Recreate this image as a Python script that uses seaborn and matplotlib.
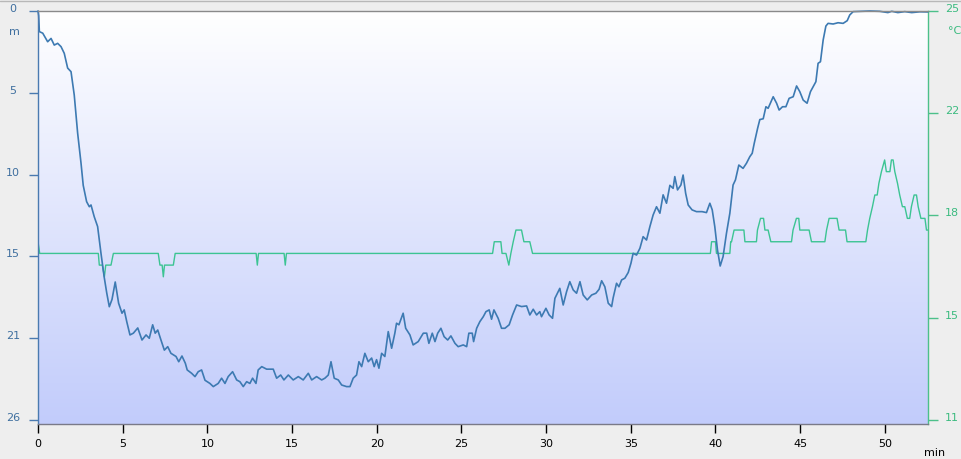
import numpy as np
import pandas as pd
import matplotlib
matplotlib.use("Agg")
import matplotlib.pyplot as plt
import matplotlib.transforms as mtransforms
from matplotlib.colors import LinearSegmentedColormap
from matplotlib.lines import Line2D
import seaborn as sns

# ---------------- data ----------------
depth_time = [0.0, 0.04, 0.08, 0.28, 0.57, 0.77, 0.96, 1.16, 1.36, 1.55, 1.75, 1.95, 2.14, 2.34,
              2.54, 2.67, 2.87, 3.03, 3.13, 3.32, 3.52, 3.72, 3.91, 4.06, 4.21, 4.37, 4.56, 4.76,
              4.96, 5.09, 5.24, 5.43, 5.63, 5.89, 6.14, 6.38, 6.57, 6.77, 6.92, 7.07, 7.26, 7.46,
              7.66, 7.85, 8.15, 8.31, 8.5, 8.7, 8.81, 9.07, 9.27, 9.46, 9.66, 9.86, 10.15, 10.35,
              10.64, 10.84, 11.04, 11.23, 11.49, 11.73, 11.92, 12.12, 12.32, 12.51, 12.67, 12.87,
              13.0, 13.21, 13.5, 13.89, 14.09, 14.33, 14.52, 14.78, 15.07, 15.37, 15.66, 15.96,
              16.16, 16.45, 16.75, 16.94, 17.14, 17.3, 17.49, 17.73, 17.93, 18.22, 18.42, 18.61,
              18.81, 18.95, 19.11, 19.3, 19.5, 19.7, 19.85, 19.99, 20.13, 20.29, 20.48, 20.68,
              20.88, 21.07, 21.17, 21.31, 21.56, 21.71, 21.96, 22.15, 22.45, 22.75, 22.95, 23.08,
              23.28, 23.44, 23.6, 23.79, 23.98, 24.19, 24.38, 24.62, 24.81, 25.11, 25.31, 25.44,
              25.64, 25.72, 25.9, 26.09, 26.29, 26.45, 26.64, 26.78, 26.92, 27.17, 27.37, 27.57,
              27.82, 28.02, 28.26, 28.55, 28.85, 29.04, 29.24, 29.44, 29.63, 29.73, 29.99, 30.18,
              30.38, 30.52, 30.71, 30.81, 31.01, 31.21, 31.4, 31.6, 31.8, 32.0, 32.19, 32.43,
              32.69, 32.94, 33.13, 33.28, 33.47, 33.67, 33.87, 33.96, 34.16, 34.3, 34.46, 34.65,
              34.85, 35.01, 35.14, 35.34, 35.54, 35.73, 35.93, 36.13, 36.32, 36.52, 36.72, 36.91,
              37.11, 37.31, 37.5, 37.6, 37.76, 37.96, 38.09, 38.24, 38.39, 38.62, 38.88, 39.21,
              39.47, 39.67, 39.81, 39.96, 40.12, 40.28, 40.45, 40.65, 40.85, 41.04, 41.18, 41.38,
              41.63, 41.83, 42.03, 42.17, 42.29, 42.49, 42.62, 42.82, 42.98, 43.11, 43.41, 43.61,
              43.76, 43.96, 44.16, 44.35, 44.59, 44.79, 44.98, 45.18, 45.41, 45.61, 45.77, 45.93,
              46.06, 46.2, 46.36, 46.52, 46.65, 46.95, 47.24, 47.54, 47.78, 47.93, 48.13, 49.11,
              49.7, 50.18, 50.41, 50.77, 51.18, 51.59, 52.07, 52.54]
depth_m = [0.0, 0.3, 1.3, 1.4, 1.94, 1.73, 2.15, 2.04, 2.25, 2.67, 3.6, 3.83, 5.3, 7.7,
           9.6, 11.0, 12.03, 12.35, 12.24, 12.98, 13.6, 15.3, 16.8, 17.8, 18.66, 18.2, 17.1, 18.44,
           19.07, 18.86, 19.6, 20.44, 20.33, 20.0, 20.76, 20.44, 20.65, 19.8, 20.33, 20.13, 20.76, 21.4,
           21.18, 21.6, 21.8, 22.13, 21.77, 22.23, 22.65, 22.86, 23.07, 22.76, 22.65, 23.3, 23.5, 23.7,
           23.5, 23.17, 23.5, 23.07, 22.76, 23.28, 23.39, 23.7, 23.39, 23.5, 23.17, 23.5,
           22.65, 22.44, 22.6, 22.6, 23.17, 22.97, 23.28, 22.97, 23.28, 23.07, 23.28, 22.86,
           23.28, 23.07, 23.28, 23.17, 22.97, 22.13, 23.17, 23.28, 23.6, 23.7, 23.7, 23.17,
           22.97, 22.13, 22.44, 21.6, 22.13, 21.9, 22.44, 22.0, 22.54, 21.6, 21.8, 20.23,
           21.28, 20.33, 19.7, 19.8, 19.07, 20.02, 20.44, 21.07, 20.86, 20.33, 20.33, 20.97,
           20.33, 20.86, 20.33, 20.02, 20.55, 20.76, 20.5, 20.97, 21.18, 21.07, 21.18, 20.33,
           20.33, 20.86, 20.02, 19.6, 19.29, 18.97, 18.86, 19.45, 18.86, 19.39, 20.02, 20.02,
           19.8, 19.18, 18.55, 18.65, 18.61, 19.18, 18.82, 19.18, 18.97, 19.29, 18.76, 19.18,
           19.39, 18.13, 17.71, 17.5, 18.55, 17.71, 17.08, 17.6, 17.81, 17.08, 17.92, 18.23,
           17.92, 17.81, 17.56, 17.02, 17.4, 18.44, 18.65, 18.1, 17.18, 17.4, 16.97, 16.86,
           16.5, 15.92, 15.29, 15.4, 14.97, 14.24, 14.45, 13.6, 12.87, 12.35, 12.76, 11.6,
           12.13, 11.0, 11.19, 10.45, 11.29, 10.98, 10.35, 11.5, 12.24, 12.55, 12.66, 12.66,
           12.72, 12.13, 12.55, 13.6, 15.08, 16.09, 15.5, 14.03, 12.76, 10.98, 10.66, 9.72,
           9.93, 9.61, 9.19, 8.98, 8.35, 7.4, 6.85, 6.8, 6.04, 6.14, 5.41, 5.82,
           6.25, 6.04, 6.04, 5.51, 5.41, 4.73, 5.09, 5.62, 5.82, 5.09, 4.78, 4.46,
           3.3, 3.2, 1.83, 0.95, 0.78, 0.82, 0.74, 0.78, 0.61, 0.25, 0.04, 0.0,
           0.02, 0.1, 0.02, 0.1, 0.04, 0.1, 0.05, 0.06]

temp_time = [0.0, 0.1, 3.56, 3.62, 3.8, 3.92, 4.0, 4.31, 4.45, 7.1, 7.2, 7.33, 7.4, 7.47,
             7.99, 8.1, 12.88, 12.95, 13.02, 14.53, 14.6, 14.67, 26.84, 26.94, 27.33, 27.4,
             27.63, 27.8, 27.92, 28.06, 28.22, 28.55, 28.69, 29.04, 29.2, 39.7, 39.77, 40.0,
             40.06, 40.85, 40.9, 40.95, 41.1, 41.68, 41.74, 42.42, 42.48, 42.66, 42.84, 42.92,
             43.11, 43.27, 44.49, 44.58, 44.78, 44.92, 44.98, 45.53, 45.67, 46.46, 46.56, 46.71,
             47.18, 47.3, 47.68, 47.77, 48.88, 48.98, 49.11, 49.27, 49.41, 49.55, 49.65, 49.8,
             49.99, 50.09, 50.3, 50.39, 50.49, 50.59, 50.75, 50.88, 51.04, 51.18, 51.33, 51.47,
             51.57, 51.73, 51.87, 51.97, 52.13, 52.37, 52.46, 52.54]
temp_c = [17.1, 16.7, 16.7, 16.3, 16.3, 15.9, 16.3, 16.3, 16.7, 16.7, 16.3, 16.3, 15.9, 16.3,
          16.3, 16.7, 16.7, 16.3, 16.7, 16.7, 16.3, 16.7, 16.7, 17.1, 17.1, 16.7,
          16.7, 16.3, 16.7, 17.1, 17.5, 17.5, 17.1, 17.1, 16.7, 16.7, 17.1, 17.1,
          16.7, 16.7, 17.1, 17.1, 17.5, 17.5, 17.1, 17.1, 17.5, 17.9, 17.9, 17.5,
          17.5, 17.1, 17.1, 17.5, 17.9, 17.9, 17.5, 17.5, 17.1, 17.1, 17.5, 17.9,
          17.9, 17.5, 17.5, 17.1, 17.1, 17.5, 17.9, 18.3, 18.7, 18.7, 19.1, 19.5,
          19.9, 19.5, 19.5, 19.9, 19.9, 19.5, 19.1, 18.7, 18.3, 18.3, 17.9, 17.9,
          18.3, 18.7, 18.7, 18.3, 17.9, 17.9, 17.5, 17.5]

x_ticks = [0, 5, 10, 15, 20, 25, 30, 35, 40, 45, 50]
x_tick_labels = ["0", "5", "10", "15", "20", "25", "30", "35", "40", "45", "50"]
depth_ticks = [0, 5.16, 10.32, 15.48, 20.64, 25.8]
depth_tick_labels = ["0", "5", "10", "15", "21", "26"]
temp_ticks = [25, 21.5, 18, 14.5, 11]
temp_tick_labels = ["25", "22", "18", "15", "11"]

# ---------------- style ----------------
sns.set_style("white")
plt.rcParams['font.family'] = ['DejaVu Sans']

BLUE_LINE = '#3d7ab2'
BLUE_TXT = '#3f6f9f'
BLUE_AX = '#4a7ab0'
GREEN_LINE = '#3cc493'
GREEN_TXT = '#3cbb80'
GREEN_AX = '#4cc08a'

W, H = 961, 459
fig = plt.figure(figsize=(W / 100, H / 100), dpi=100, facecolor='#eeeeee')
L, R, B, T = 38 / W, 928 / W, 1 - 424 / H, 1 - 11 / H
rect = [L, B, R - L, T - B]

# gradient background
bg = fig.add_axes(rect, zorder=0)
grad = np.linspace(0, 1, 256).reshape(-1, 1)
cmap = LinearSegmentedColormap.from_list('g', ['#ffffff', '#c2ccfb'])
bg.imshow(grad, aspect='auto', cmap=cmap, extent=[0, 1, 0, 1], origin='upper')
bg.axis('off')

ax = fig.add_axes(rect, zorder=2)
ax2 = ax.twinx()
ax2.set_zorder(1)
ax.patch.set_alpha(0)
ax2.patch.set_alpha(0)

df_d = pd.DataFrame({'t': depth_time, 'd': depth_m})
df_t = pd.DataFrame({'t': temp_time, 'c': temp_c})

sns.lineplot(data=df_d, x='t', y='d', ax=ax, color=BLUE_LINE, lw=1.2,
             estimator=None, sort=False, clip_on=False)
sns.lineplot(data=df_t, x='t', y='c', ax=ax2, color=GREEN_LINE, lw=1.0,
             estimator=None, sort=False)

ax.set_xlim(0, 52.55)
ax.set_ylim(26.06, 0)
ax2.set_ylim(10.86, 25)
for a in (ax, ax2):
    a.set_xlabel('')
    a.set_ylabel('')
    a.grid(False)

ax.set_xticks(x_ticks, x_tick_labels)
ax.set_yticks(depth_ticks, depth_tick_labels)
ax2.set_yticks(temp_ticks, temp_tick_labels)

ax.tick_params(axis='x', bottom=True, direction='out', length=6.5, width=1,
               color='black', labelcolor='black', labelsize=8, pad=4)
ax.tick_params(axis='y', left=True, right=False, direction='out', length=6.5, width=1,
               color=BLUE_AX, labelcolor=BLUE_TXT, labelsize=8, pad=11.5)
ax2.tick_params(axis='y', right=True, left=False, direction='out', length=7.2, width=1,
                color=GREEN_AX, labelcolor=GREEN_TXT, labelsize=8, pad=5)

up = mtransforms.ScaledTranslation(0, 3 / 100, fig.dpi_scale_trans)
for lab in ax.get_yticklabels():
    lab.set_ha('center')
    lab.set_transform(lab.get_transform() + up)
for lab in ax2.get_yticklabels():
    lab.set_transform(lab.get_transform() + up)

for s in ax.spines.values():
    s.set_linewidth(1)
ax.spines['left'].set_color(BLUE_AX)
ax.spines['bottom'].set_color('#7a7a88')
ax.spines['top'].set_color('#8a8a8a')
ax.spines['right'].set_visible(False)
for k in ('left', 'top', 'bottom'):
    ax2.spines[k].set_visible(False)
ax2.spines['right'].set_color(GREEN_AX)
ax2.spines['right'].set_linewidth(1)

fig.text(14 / W, 1 - 32 / H, 'm', color=BLUE_TXT, fontsize=8, ha='center', va='center')
fig.text(955 / W, 1 - 31 / H, '°C', color=GREEN_TXT, fontsize=8, ha='center', va='center')
fig.text(935 / W, 1 - 453 / H, 'min', color='black', fontsize=8, ha='center', va='center')
fig.add_artist(Line2D([0, 1], [1 - 0.5 / H, 1 - 0.5 / H], color='#b8b8b8', lw=1,
                      transform=fig.transFigure))

fig.savefig('out.png', dpi=100, facecolor=fig.get_facecolor())
